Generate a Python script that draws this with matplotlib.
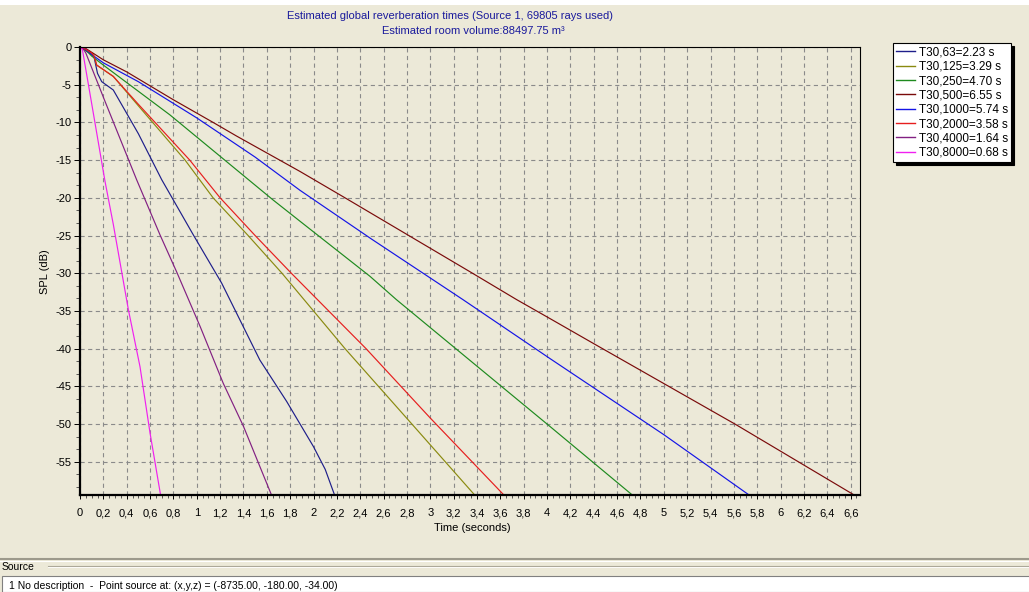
import matplotlib
matplotlib.use("Agg")
import matplotlib.pyplot as plt
from matplotlib.ticker import MultipleLocator, FuncFormatter
from matplotlib.patches import Rectangle
from matplotlib.lines import Line2D

plt.rcParams['font.family'] = ['Liberation Sans', 'DejaVu Sans']
plt.rcParams['lines.scale_dashes'] = False

W, H = 1029, 592
BG = '#ECE9D8'

# ---------------- data ----------------
labels = ["T30,63=2.23 s", "T30,125=3.29 s", "T30,250=4.70 s", "T30,500=6.55 s",
          "T30,1000=5.74 s", "T30,2000=3.58 s", "T30,4000=1.64 s", "T30,8000=0.68 s"]
colors = ['#1E1E8A', '#8A8A10', '#1E8A1E', '#7A0A0A', '#1414E6', '#E61E1E', '#822082', '#F020F0']

t_63 = [0, 0.05, 0.1, 0.12, 0.15, 0.186, 0.285, 0.5, 0.7, 0.97, 1.213, 1.54, 1.77, 2.0, 2.1, 2.18]
db_63 = [0, -0.5, -1.0, -1.3, -3.5, -4.6, -5.7, -11.5, -17.6, -24.9, -31.3, -41.5, -47.0, -53.0, -56.0, -59.4]

t_125 = [0, 0.05, 0.1, 0.12, 0.143, 0.2, 0.285, 0.5, 0.9, 1.14, 1.44, 1.73, 2.27, 2.9, 3.38]
db_125 = [0, -0.3, -0.8, -1.2, -2.4, -3.0, -3.9, -7.8, -15.0, -20.0, -25.0, -30.0, -40.0, -51.0, -59.4]

t_250 = [0, 0.05, 0.1, 0.2, 0.77, 1.655, 1.884, 2.483, 2.71, 4.024, 4.73]
db_250 = [0, -0.4, -1.2, -2.4, -9.0, -20.3, -23.1, -30.4, -33.5, -50.3, -59.4]

t_500 = [0, 0.05, 0.1, 0.2, 0.4, 0.8, 1.14, 1.34, 1.884, 2.27, 3.34, 3.74, 4.024, 4.43, 5.61, 6.63]
db_500 = [0, -0.2, -0.7, -1.7, -3.3, -7.0, -10.0, -11.8, -16.5, -20.0, -29.8, -33.5, -36.0, -39.6, -50.0, -59.4]

t_1000 = [0, 0.05, 0.1, 0.2, 0.5, 1.0, 1.5, 1.884, 2.5, 3.28, 4.024, 5.0, 5.73]
db_1000 = [0, -0.3, -1.0, -2.1, -4.6, -9.4, -14.6, -19.0, -25.5, -33.5, -41.3, -51.4, -59.4]

t_2000 = [0, 0.05, 0.1, 0.12, 0.143, 0.2, 0.285, 0.5, 0.94, 1.2, 1.5, 1.81, 2.45, 3.0, 3.63]
db_2000 = [0, -0.3, -0.8, -1.2, -2.4, -3.0, -3.9, -7.6, -15.0, -20.0, -25.0, -30.0, -40.0, -49.2, -59.4]

t_4000 = [0, 0.03, 0.05, 0.214, 0.485, 0.685, 0.83, 1.03, 1.227, 1.4, 1.64]
db_4000 = [0, -0.3, -0.8, -7.2, -17.6, -24.9, -29.9, -37.1, -44.6, -50.3, -59.4]

t_8000 = [0, 0.02, 0.1, 0.214, 0.285, 0.414, 0.514, 0.6, 0.69]
db_8000 = [0, -0.3, -7.5, -17.8, -23.5, -34.8, -42.4, -51.2, -59.4]

series_t = [t_63, t_125, t_250, t_500, t_1000, t_2000, t_4000, t_8000]
series_db = [db_63, db_125, db_250, db_500, db_1000, db_2000, db_4000, db_8000]

title_line1 = "Estimated global reverberation times (Source 1, 69805 rays used)"
title_line2 = "Estimated room volume:88497.75 m\u00b3"
x_label = "Time (seconds)"
y_label = "SPL (dB)"
source_header = "Source"
source_line = "1 No description  -  Point source at: (x,y,z) = (-8735.00, -180.00, -34.00)"

# ---------------- figure ----------------
fig = plt.figure(figsize=(W / 100, H / 100), dpi=100, facecolor=BG)


def fx(x):
    return x / W


def fy(y):
    return 1 - y / H


ax_l, ax_r, ax_t, ax_b = 80, 860, 47, 495
ax = fig.add_axes([fx(ax_l), fy(ax_b), fx(ax_r - ax_l), (ax_b - ax_t) / H])
ax.set_facecolor(BG)

for t, d, c, lab in zip(series_t, series_db, colors, labels):
    ax.plot(t, d, color=c, lw=0.85, label=lab, solid_joinstyle='round')

ax.set_xlim(0, 6.68)
ax.set_ylim(-59.4, 0)

ax.xaxis.set_major_locator(MultipleLocator(0.2))
ax.xaxis.set_minor_locator(MultipleLocator(0.05))
ax.yaxis.set_major_locator(MultipleLocator(5))
ax.yaxis.set_minor_locator(MultipleLocator(5 / 3))
ax.xaxis.set_major_formatter(FuncFormatter(lambda v, p: f"{round(v, 1):g}".replace('.', ',')))
ax.yaxis.set_major_formatter(FuncFormatter(lambda v, p: f"{int(round(v))}"))

ax.tick_params(axis='x', which='major', length=3, width=0.7, pad=6.5, labelsize=8, colors='black')
ax.tick_params(axis='x', which='minor', length=2, width=0.6, colors='#404040')
ax.tick_params(axis='y', which='major', length=4, width=0.7, pad=2, labelsize=8, colors='black')
ax.tick_params(axis='y', which='minor', length=3, width=0.6, colors='#404040')

ax.grid(True, which='major', color='#8a8a8a', lw=0.8, linestyle=(0, (3, 2.5)))

for s in ['left', 'bottom']:
    ax.spines[s].set_linewidth(1.6)
for s in ['top', 'right']:
    ax.spines[s].set_linewidth(0.8)
for s in ax.spines.values():
    s.set_color('black')

fig.text(fx(472), fy(528), x_label, ha='center', va='center', fontsize=8)
fig.text(fx(45), fy(272), y_label, ha='center', va='center', fontsize=8, rotation=90)

fig.text(fx(450), fy(16), title_line1, ha='center', va='center', fontsize=8, color='#1a1a9c')
fig.text(fx(473), fy(31), title_line2, ha='center', va='center', fontsize=8, color='#1a1a9c')

leg = ax.legend(loc='upper left', bbox_to_anchor=(fx(893), fy(43)), bbox_transform=fig.transFigure,
                fontsize=8.5, frameon=True, fancybox=False, edgecolor='black', framealpha=1,
                facecolor='white', borderaxespad=0, handlelength=1.6, handletextpad=0.3,
                labelspacing=0.2, borderpad=0.28,
                shadow={'color': 'black', 'alpha': 1})
leg.get_frame().set_linewidth(0.8)
for line in leg.get_lines():
    line.set_linewidth(1.0)

# white strip on top
fig.patches.append(Rectangle((0, fy(5)), 1, 5 / H, transform=fig.transFigure,
                             facecolor='white', edgecolor='none', zorder=0))

# bottom "Source" panel
fig.lines.append(Line2D([0, 1], [fy(559), fy(559)], transform=fig.transFigure, color='#9d9a8c', lw=1.5))
fig.lines.append(Line2D([0, 1], [fy(561), fy(561)], transform=fig.transFigure, color='#ffffff', lw=0.8))
fig.lines.append(Line2D([fx(48), 1], [fy(566), fy(566)], transform=fig.transFigure, color='#aca899', lw=0.8))
fig.lines.append(Line2D([fx(48), 1], [fy(567), fy(567)], transform=fig.transFigure, color='#ffffff', lw=0.6))
fig.text(fx(2), fy(567), source_header, ha='left', va='center', fontsize=7.5)
fig.patches.append(Rectangle((fx(2), 0), 1, (592 - 576) / H, transform=fig.transFigure,
                             facecolor='white', edgecolor='#808080', lw=0.8, zorder=1))
fig.text(fx(9), fy(586), source_line, ha='left', va='center', fontsize=7.5, zorder=2)

fig.savefig("out.png", dpi=100, facecolor=BG)
